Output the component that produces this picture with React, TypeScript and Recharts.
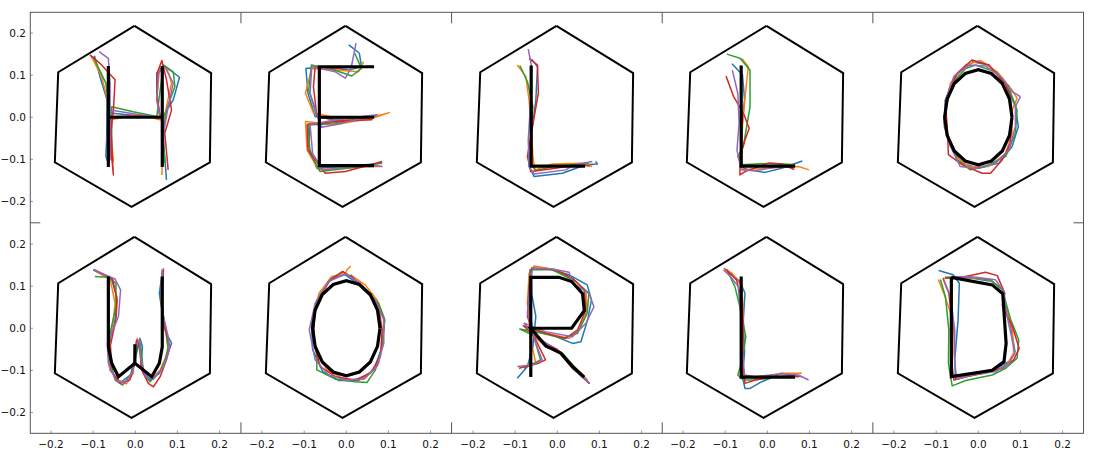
import React from 'react';
import { ScatterChart, Scatter, XAxis, YAxis } from 'recharts';

type Pt = [number, number];

const TICKS = [-0.2, -0.1, 0, 0.1, 0.2];
const DOMAIN: [number, number] = [-0.25, 0.25];
const COLORS = ['#1f77b4', '#ff7f0e', '#2ca02c', '#d62728', '#9467bd'];

// target area drawn around every letter
const HEXAGON: Pt[] = [
  [-0.002, 0.217], [0.18, 0.105], [0.177, -0.107], [-0.009, -0.213],
  [-0.191, -0.107], [-0.183, 0.107], [-0.002, 0.217],
];

// letter templates (black strokes)
const LETTER_H: Pt[][] = [
  [[-0.064, 0.122], [-0.064, -0.118]],
  [[-0.064, 0], [0.064, 0]],
  [[0.064, 0.122], [0.064, -0.118]],
];
const LETTER_E: Pt[][] = [
  [[0.066, 0.12], [-0.064, 0.12], [-0.064, -0.115], [0.066, -0.115]],
  [[-0.064, 0], [0.066, 0]],
];
const LETTER_L: Pt[][] = [
  [[-0.062, 0.123], [-0.062, -0.116], [0.066, -0.116]],
];
const LETTER_O: Pt[][] = [
  [[0.08, 0], [0.074, 0.043], [0.057, 0.08], [0.031, 0.104], [0, 0.113], [-0.031, 0.104],
   [-0.057, 0.08], [-0.074, 0.043], [-0.08, 0], [-0.074, -0.043], [-0.057, -0.08],
   [-0.031, -0.104], [0, -0.113], [0.031, -0.104], [0.057, -0.08], [0.074, -0.043], [0.08, 0]],
];
const LETTER_W: Pt[][] = [
  [[-0.064, 0.123], [-0.064, -0.044], [-0.056, -0.083], [-0.04, -0.115], [-0.001, -0.083],
   [-0.001, -0.038], [-0.001, -0.083], [0.039, -0.115], [0.057, -0.083], [0.064, -0.044], [0.064, 0.123]],
];
const LETTER_R: Pt[][] = [
  [[-0.063, -0.116], [-0.063, 0.121], [0.004, 0.121], [0.034, 0.111], [0.06, 0.082], [0.064, 0.042],
   [0.034, 0], [-0.063, 0], [-0.027, -0.042], [0.008, -0.059], [0.036, -0.091], [0.064, -0.116]],
];
const LETTER_D: Pt[][] = [
  [[-0.064, 0.121], [0.033, 0.103], [0.058, 0.082], [0.066, -0.036], [0.061, -0.079],
   [0.033, -0.1], [-0.064, -0.115], [-0.064, 0.121]],
];

// handwritten traces, order: blue, orange, green, red, purple
const TRACES_H: Pt[][] = [
  [[-0.097, 0.146], [-0.084, 0.097], [-0.067, 0.041], [-0.068, -0.054], [-0.07, -0.093], [-0.064, -0.109],
   [-0.06, 0.01], [0.059, -0.002], [0.051, 0.049], [0.051, 0.105], [0.067, 0.124], [0.105, 0.095],
   [0.09, 0.041], [0.07, 0.01], [0.067, -0.054], [0.074, -0.149]],
  [[-0.105, 0.146], [-0.08, 0.097], [-0.06, 0.017], [-0.064, -0.054], [-0.052, -0.105], [-0.06, -0.006],
   [0.011, 0.006], [0.059, -0.006], [0.051, 0.041], [0.057, 0.112], [0.074, 0.12], [0.086, 0.081],
   [0.074, 0.025], [0.067, -0.022], [0.065, -0.078], [0.063, -0.137]],
  [[-0.1, 0.144], [-0.07, 0.081], [-0.062, 0.017], [-0.06, -0.07], [-0.056, -0.101], [-0.056, 0.025],
   [-0.005, 0.013], [0.051, 0.002], [0.057, 0.049], [0.067, 0.124], [0.09, 0.108], [0.094, 0.073],
   [0.074, 0.017], [0.065, -0.038], [0.07, -0.109]],
  [[-0.108, 0.148], [-0.084, 0.128], [-0.048, 0.089], [-0.052, 0.017], [-0.06, -0.054], [-0.052, -0.137],
   [-0.06, 0.002], [0.011, 0.003], [0.059, 0], [0.051, 0.057], [0.052, 0.105], [0.063, 0.135],
   [0.074, 0.089], [0.086, 0.017], [0.07, -0.038], [0.078, -0.125]],
  [[-0.086, 0.156], [-0.064, 0.14], [-0.06, 0.081], [-0.06, 0.017], [-0.067, -0.054], [-0.06, -0.101],
   [-0.06, 0.017], [0.011, 0.006], [0.059, 0], [0.051, 0.041], [0.055, 0.105], [0.07, 0.12],
   [0.09, 0.081], [0.078, 0.025], [0.067, -0.038], [0.065, -0.117]],
];
const TRACES_E: Pt[][] = [
  [[0.006, 0.172], [0.031, 0.152], [0.036, 0.12], [0.006, 0.112], [-0.058, 0.12], [-0.096, 0.116],
   [-0.091, 0.057], [-0.074, 0.002], [-0.026, -0.006], [0.069, 0.002], [-0.026, -0.016], [-0.086, -0.018],
   [-0.089, -0.07], [-0.07, -0.121], [-0.002, -0.117], [0.085, -0.109]],
  [[0.041, 0.132], [0.029, 0.108], [-0.026, 0.112], [-0.082, 0.116], [-0.097, 0.057], [-0.078, 0.01],
   [-0.002, -0.006], [0.085, 0.006], [0.102, 0.011], [0.069, 0], [-0.026, -0.018], [-0.097, -0.01],
   [-0.093, -0.078], [-0.066, -0.125], [0.053, -0.117], [0.085, -0.117]],
  [[0.02, 0.152], [0.036, 0.116], [0.013, 0.098], [-0.034, 0.114], [-0.083, 0.124], [-0.089, 0.065],
   [-0.07, 0.002], [-0.01, -0.01], [0.069, 0.003], [-0.026, -0.013], [-0.091, -0.016], [-0.086, -0.086],
   [-0.062, -0.129], [0.037, -0.117], [0.085, -0.108]],
  [[0.029, 0.12], [-0.026, 0.116], [-0.074, 0.12], [-0.078, 0.073], [-0.07, 0.002], [-0.002, -0.008],
   [0.061, -0.006], [-0.026, -0.01], [-0.093, -0.018], [-0.091, -0.078], [-0.05, -0.133], [-0.002, -0.129],
   [0.085, -0.105]],
  [[0.023, 0.176], [0.012, 0.12], [-0.002, 0.093], [-0.026, 0.108], [-0.082, 0.12], [-0.086, 0.057],
   [-0.067, -0.002], [-0.058, -0.024], [-0.01, -0.014], [0.073, 0.006], [-0.026, -0.006], [-0.086, -0.018],
   [-0.08, -0.086], [-0.056, -0.125], [0.053, -0.113], [0.086, -0.117]],
];
const TRACES_L1: Pt[][] = [
  [[-0.061, 0.138], [-0.047, 0.12], [-0.051, 0.041], [-0.061, -0.038], [-0.067, -0.117], [-0.055, -0.141],
   [0.012, -0.133], [0.067, -0.113], [0.095, -0.111], [0.091, -0.105]],
  [[-0.095, 0.124], [-0.075, 0.097], [-0.067, 0.041], [-0.061, -0.038], [-0.058, -0.093], [-0.053, -0.125],
   [-0.012, -0.111], [0.06, -0.109], [0.083, -0.117]],
  [[-0.089, 0.123], [-0.071, 0.085], [-0.058, 0.025], [-0.063, -0.054], [-0.065, -0.109], [-0.051, -0.127],
   [-0.012, -0.117], [0.075, -0.109]],
  [[-0.067, 0.14], [-0.047, 0.124], [-0.045, 0.057], [-0.059, -0.022], [-0.071, -0.093], [-0.063, -0.129],
   [-0.004, -0.121], [0.047, -0.113], [0.077, -0.116]],
  [[-0.069, 0.162], [-0.061, 0.12], [-0.063, 0.041], [-0.069, -0.054], [-0.067, -0.117], [-0.055, -0.135],
   [0.02, -0.125], [0.04, -0.113], [0.083, -0.105]],
];
const TRACES_L2: Pt[][] = [
  [[-0.084, 0.127], [-0.059, 0.101], [-0.054, 0.041], [-0.062, -0.038], [-0.064, -0.117], [-0.045, -0.125],
   [-0.005, -0.131], [0.034, -0.121], [0.083, -0.104]],
  [[-0.061, 0.14], [-0.045, 0.12], [-0.052, 0.057], [-0.059, -0.022], [-0.061, -0.093], [-0.059, -0.125],
   [-0.005, -0.121], [0.074, -0.117], [0.099, -0.125]],
  [[-0.096, 0.15], [-0.065, 0.14], [-0.041, 0.112], [-0.041, 0.025], [-0.057, -0.07], [-0.07, -0.093],
   [-0.061, -0.113], [0.011, -0.109], [0.066, -0.113]],
  [[-0.098, 0.098], [-0.08, 0.049], [-0.057, 0.01], [-0.043, -0.026], [-0.053, -0.054], [-0.065, -0.093],
   [-0.065, -0.137], [-0.053, -0.129], [0.003, -0.109], [0.034, -0.111], [0.064, -0.124]],
  [[-0.083, 0.112], [-0.07, 0.057], [-0.067, -0.014], [-0.072, -0.078], [-0.062, -0.125], [-0.029, -0.127],
   [0.019, -0.119], [0.06, -0.117]],
];
const TRACES_O1: Pt[][] = [
  [[-0.015, 0.132], [0.025, 0.124], [0.065, 0.081], [0.088, 0.025], [0.095, -0.022], [0.08, -0.07],
   [0.049, -0.109], [0.001, -0.121], [-0.038, -0.109], [-0.066, -0.07], [-0.081, -0.014], [-0.078, 0.041],
   [-0.054, 0.101], [-0.015, 0.13]],
  [[0.005, 0.135], [0.045, 0.108], [0.08, 0.065], [0.092, 0.045], [0.08, 0.017], [0.08, -0.038],
   [0.065, -0.086], [0.025, -0.117], [-0.022, -0.117], [-0.054, -0.093], [-0.073, -0.038], [-0.079, 0.025],
   [-0.066, 0.081], [-0.03, 0.124], [0.005, 0.135]],
  [[-0.007, 0.124], [0.041, 0.108], [0.073, 0.069], [0.092, 0.017], [0.088, -0.038], [0.065, -0.093],
   [0.017, -0.117], [-0.019, -0.125], [-0.05, -0.101], [-0.074, -0.046], [-0.078, 0.017], [-0.062, 0.081],
   [-0.03, 0.116], [-0.007, 0.124]],
  [[0.074, 0.073], [0.058, 0.085], [0.025, 0.124], [-0.015, 0.136], [-0.05, 0.105], [-0.078, 0.041],
   [-0.073, -0.038], [-0.071, -0.089], [-0.038, -0.113], [0.009, -0.133], [0.029, -0.133], [0.057, -0.101],
   [0.076, -0.062], [0.08, 0.002], [0.076, 0.049], [0.065, 0.077]],
  [[0.1, 0.049], [0.088, 0.025], [0.088, -0.022], [0.073, -0.078], [0.041, -0.109], [-0.007, -0.121],
   [-0.043, -0.117], [-0.062, -0.078], [-0.081, -0.022], [-0.078, 0.041], [-0.058, 0.097], [-0.022, 0.124],
   [0.017, 0.122], [0.057, 0.093], [0.08, 0.061], [0.1, 0.049]],
];
const TRACES_W: Pt[][] = [
  [[-0.1, 0.139], [-0.056, 0.115], [-0.044, 0.075], [-0.048, 0.02], [-0.062, -0.036], [-0.06, -0.099],
   [-0.036, -0.129], [-0.011, -0.111], [0.002, -0.055], [0.011, -0.024], [0.017, -0.044], [0.013, -0.091],
   [0.035, -0.123], [0.057, -0.107], [0.074, -0.067], [0.086, -0.036], [0.07, -0.004], [0.062, 0.051],
   [0.057, 0.083], [0.065, 0.14]],
  [[-0.096, 0.137], [-0.06, 0.117], [-0.048, 0.06], [-0.054, 0.004], [-0.066, -0.051], [-0.062, -0.091],
   [-0.048, -0.119], [-0.021, -0.132], [-0.005, -0.107], [-0.001, -0.044], [0.005, -0.024], [0.011, -0.051],
   [0.019, -0.099], [0.039, -0.119], [0.059, -0.099], [0.078, -0.055], [0.074, -0.02], [0.067, 0.02],
   [0.062, 0.075], [0.067, 0.143]],
  [[-0.096, 0.123], [-0.064, 0.121], [-0.046, 0.107], [-0.046, 0.051], [-0.06, -0.012], [-0.06, -0.075],
   [-0.048, -0.123], [-0.03, -0.135], [-0.009, -0.107], [0.003, -0.059], [0.011, -0.032], [0.015, -0.059],
   [0.019, -0.107], [0.035, -0.127], [0.059, -0.103], [0.071, -0.075], [0.078, -0.044], [0.071, 0.004],
   [0.06, 0.067], [0.064, 0.139]],
  [[-0.097, 0.139], [-0.054, 0.117], [-0.043, 0.067], [-0.046, 0.02], [-0.059, -0.04], [-0.056, -0.103],
   [-0.036, -0.131], [-0.013, -0.123], [-0.001, -0.083], [0.003, -0.028], [0.01, -0.044], [0.015, -0.099],
   [0.031, -0.131], [0.043, -0.139], [0.059, -0.115], [0.074, -0.075], [0.082, -0.044], [0.07, 0.004],
   [0.062, 0.059], [0.067, 0.139]],
  [[-0.1, 0.139], [-0.048, 0.117], [-0.035, 0.091], [-0.04, 0.028], [-0.066, -0.036], [-0.064, -0.083],
   [-0.046, -0.124], [-0.025, -0.131], [-0.006, -0.103], [0.002, -0.04], [0.01, -0.028], [0.013, -0.075],
   [0.025, -0.115], [0.043, -0.121], [0.067, -0.091], [0.081, -0.051], [0.078, -0.02], [0.067, 0.028],
   [0.06, 0.083], [0.065, 0.14]],
];
const TRACES_O2: Pt[][] = [
  [[-0.002, 0.127], [0.037, 0.099], [0.073, 0.059], [0.091, 0.02], [0.085, -0.044], [0.065, -0.099],
   [0.029, -0.124], [-0.018, -0.124], [-0.056, -0.103], [-0.08, -0.051], [-0.083, 0.012], [-0.07, 0.067],
   [-0.038, 0.119], [-0.002, 0.127]],
  [[0.01, 0.148], [0.002, 0.139], [-0.002, 0.131], [-0.034, 0.123], [-0.065, 0.083], [-0.08, 0.02],
   [-0.074, -0.051], [-0.046, -0.099], [-0.002, -0.123], [0.045, -0.119], [0.077, -0.083], [0.087, -0.028],
   [0.089, 0.028], [0.073, 0.067], [0.045, 0.103], [0.01, 0.127]],
  [[-0.006, 0.135], [-0.034, 0.119], [-0.065, 0.075], [-0.082, 0.004], [-0.07, -0.067], [-0.07, -0.099],
   [-0.026, -0.121], [0.021, -0.127], [0.049, -0.129], [0.069, -0.099], [0.085, -0.044], [0.091, 0.02],
   [0.077, 0.059], [0.041, 0.091], [0.01, 0.127]],
  [[-0.009, 0.135], [-0.042, 0.111], [-0.074, 0.051], [-0.078, -0.028], [-0.062, -0.091], [-0.026, -0.115],
   [0.021, -0.123], [0.057, -0.107], [0.081, -0.067], [0.085, -0.004], [0.077, 0.051], [0.045, 0.091],
   [0.017, 0.119], [-0.009, 0.135]],
  [[-0.006, 0.127], [-0.042, 0.111], [-0.074, 0.059], [-0.088, -0.004], [-0.074, -0.075], [-0.042, -0.111],
   [-0.002, -0.123], [0.041, -0.121], [0.073, -0.091], [0.089, -0.036], [0.089, 0.02], [0.069, 0.067],
   [0.033, 0.107], [-0.002, 0.129]],
];
const TRACES_R: Pt[][] = [
  [[-0.095, -0.119], [-0.071, -0.091], [-0.058, -0.044], [-0.051, 0.028], [-0.061, 0.083], [-0.061, 0.139],
   [-0.028, 0.143], [0.028, 0.127], [0.071, 0.103], [0.081, 0.067], [0.072, 0.02], [0.056, -0.032],
   [0.036, -0.036], [-0.012, -0.016], [-0.067, 0], [-0.028, -0.044], [0.008, -0.058], [0.036, -0.095],
   [0.076, -0.131]],
  [[-0.083, -0.091], [-0.051, -0.083], [-0.063, -0.028], [-0.071, 0.059], [-0.067, 0.131], [-0.055, 0.148],
   [-0.004, 0.139], [0.04, 0.115], [0.068, 0.087], [0.071, 0.044], [0.052, -0.004], [0.028, -0.024],
   [-0.028, -0.012], [-0.075, -0.004], [-0.036, -0.036], [0.004, -0.055], [0.044, -0.095], [0.072, -0.123]],
  [[-0.079, -0.095], [-0.04, -0.075], [-0.058, -0.012], [-0.067, 0.059], [-0.065, 0.139], [-0.012, 0.139],
   [0.044, 0.111], [0.075, 0.083], [0.071, 0.036], [0.048, -0.012], [0.012, -0.024], [-0.036, -0.012],
   [-0.089, -0.002], [-0.051, -0.02], [-0.02, -0.044], [0.012, -0.059], [0.04, -0.091], [0.074, -0.129]],
  [[-0.091, -0.095], [-0.044, -0.083], [-0.028, -0.075], [-0.051, -0.028], [-0.071, 0.028], [-0.067, 0.099],
   [-0.061, 0.143], [-0.004, 0.139], [0.036, 0.119], [0.064, 0.091], [0.068, 0.044], [0.048, -0.004],
   [0.02, -0.024], [-0.028, -0.012], [-0.081, 0.006], [-0.04, -0.028], [0.001, -0.051], [0.032, -0.091],
   [0.077, -0.132]],
  [[-0.095, -0.091], [-0.059, -0.087], [-0.036, -0.075], [-0.051, -0.036], [-0.071, 0.036], [-0.063, 0.123],
   [-0.058, 0.143], [-0.012, 0.141], [0.028, 0.133], [0.036, 0.107], [0.075, 0.083], [0.087, 0.051],
   [0.068, 0.012], [0.036, -0.02], [-0.028, -0.008], [-0.079, 0.012], [-0.055, -0.016], [-0.02, -0.04],
   [0.008, -0.059], [0.04, -0.099], [0.077, -0.131]],
];
const TRACES_L3: Pt[][] = [
  [[-0.096, 0.139], [-0.065, 0.111], [-0.053, 0.083], [-0.057, 0.02], [-0.054, -0.059], [-0.059, -0.115],
   [-0.053, -0.143], [-0.041, -0.143], [-0.013, -0.127], [0.034, -0.107], [0.082, -0.115]],
  [[-0.104, 0.143], [-0.084, 0.131], [-0.06, 0.099], [-0.057, 0.02], [-0.059, -0.075], [-0.057, -0.115],
   [-0.029, -0.119], [0.034, -0.107], [0.082, -0.107]],
  [[-0.096, 0.139], [-0.077, 0.099], [-0.065, 0.051], [-0.051, -0.02], [-0.059, -0.075], [-0.07, -0.111],
   [-0.057, -0.123], [-0.029, -0.123], [0.019, -0.115], [0.066, -0.113]],
  [[-0.1, 0.14], [-0.073, 0.115], [-0.059, 0.059], [-0.057, -0.012], [-0.059, -0.075], [-0.053, -0.131],
   [-0.029, -0.123], [0.019, -0.115], [0.058, -0.113], [0.074, -0.116]],
  [[-0.104, 0.139], [-0.088, 0.123], [-0.069, 0.099], [-0.062, 0.02], [-0.059, -0.059], [-0.054, -0.111],
   [-0.029, -0.115], [0.034, -0.108], [0.074, -0.111], [0.098, -0.123]],
];
const TRACES_D: Pt[][] = [
  [[-0.094, 0.137], [-0.06, 0.127], [-0.045, 0.107], [-0.048, 0.02], [-0.056, -0.075], [-0.054, -0.121],
   [-0.014, -0.108], [0.041, -0.097], [0.073, -0.079], [0.087, -0.055], [0.077, 0.004], [0.065, 0.059],
   [0.058, 0.091], [0.033, 0.111], [-0.014, 0.119], [-0.064, 0.121]],
  [[-0.095, 0.116], [-0.082, 0.083], [-0.06, 0.02], [-0.06, -0.059], [-0.065, -0.115], [-0.038, -0.116],
   [0.017, -0.107], [0.065, -0.091], [0.084, -0.059], [0.081, -0.004], [0.069, 0.036], [0.058, 0.075],
   [0.057, 0.095], [0.025, 0.115], [-0.03, 0.121], [-0.084, 0.119]],
  [[-0.09, 0.116], [-0.078, 0.075], [-0.07, -0.004], [-0.071, -0.083], [-0.062, -0.137], [-0.03, -0.124],
   [0.033, -0.111], [0.065, -0.095], [0.092, -0.071], [0.096, -0.028], [0.077, 0.02], [0.065, 0.063],
   [0.057, 0.091], [0.029, 0.115], [-0.03, 0.123], [-0.079, 0.121]],
  [[-0.084, 0.119], [-0.07, 0.083], [-0.06, 0.004], [-0.064, -0.075], [-0.058, -0.123], [-0.03, -0.116],
   [0.017, -0.105], [0.057, -0.095], [0.084, -0.075], [0.097, -0.048], [0.081, 0.004], [0.065, 0.036],
   [0.057, 0.055], [0.063, 0.083], [0.045, 0.125], [0.017, 0.133], [-0.03, 0.123], [-0.078, 0.119]],
  [[-0.082, 0.116], [-0.066, 0.075], [-0.056, -0.004], [-0.056, -0.083], [-0.051, -0.121], [-0.014, -0.111],
   [0.041, -0.103], [0.073, -0.083], [0.087, -0.059], [0.077, -0.012], [0.065, 0.044], [0.061, 0.087],
   [0.041, 0.115], [-0.006, 0.121], [-0.06, 0.123]],
];

const PANELS = [
  { letter: LETTER_H, traces: TRACES_H },
  { letter: LETTER_E, traces: TRACES_E },
  { letter: LETTER_L, traces: TRACES_L1 },
  { letter: LETTER_L, traces: TRACES_L2 },
  { letter: LETTER_O, traces: TRACES_O1 },
  { letter: LETTER_W, traces: TRACES_W },
  { letter: LETTER_O, traces: TRACES_O2 },
  { letter: LETTER_R, traces: TRACES_R },
  { letter: LETTER_L, traces: TRACES_L3 },
  { letter: LETTER_D, traces: TRACES_D },
];

const FRAME_X = 30.3;
const FRAME_Y = 12.3;
const PANEL_W = 210.64;
const PANEL_H = 210.5;
const COLS = 5;
const GUTTER = 30;

const tickStyle = { fontSize: 10.5, fill: '#111', fontFamily: 'DejaVu Sans' };
// matplotlib style labels with a real minus sign
const fmt = (v: number) => (v < 0 ? '\u2212' + Math.abs(v).toFixed(1) : v.toFixed(1));
const toXY = (pts: Pt[]) => pts.map(([x, y]) => ({ x, y }));
const noDot = () => <g />;

const Panel = ({ letter, traces, row, col }: { letter: Pt[][]; traces: Pt[][]; row: number; col: number }) => {
  const showY = col === 0;
  const showX = row === 1;
  const width = PANEL_W + (showY ? GUTTER : 0);
  const height = PANEL_H + (showX ? GUTTER : 0);
  const left = FRAME_X + col * PANEL_W - (showY ? GUTTER : 0);
  const top = FRAME_Y + row * PANEL_H;
  return (
    <div style={{ position: 'absolute', left, top }}>
      <ScatterChart width={width} height={height} margin={{ top: 0, right: 0, bottom: 0, left: 0 }}>
        <XAxis
          type="number"
          dataKey="x"
          domain={DOMAIN}
          ticks={TICKS}
          interval={0}
          allowDataOverflow
          hide={!showX}
          height={GUTTER}
          axisLine={false}
          tickLine={{ stroke: '#999' }}
          tickSize={-3}
          tickMargin={10}
          tick={tickStyle}
          tickFormatter={fmt}
        />
        <YAxis
          type="number"
          dataKey="y"
          domain={DOMAIN}
          ticks={TICKS}
          interval={0}
          allowDataOverflow
          hide={!showY}
          width={GUTTER}
          axisLine={false}
          tickLine={{ stroke: '#999' }}
          tickSize={-3}
          tickMargin={7}
          tick={tickStyle}
          tickFormatter={fmt}
        />
        <Scatter data={toXY(HEXAGON)} line={{ stroke: '#000', strokeWidth: 2 }} shape={noDot} isAnimationActive={false} />
        {traces.map((t, i) => (
          <Scatter
            key={`t${i}`}
            data={toXY(t)}
            line={{ stroke: COLORS[i], strokeWidth: 1.5, strokeLinejoin: 'round' }}
            shape={noDot}
            isAnimationActive={false}
          />
        ))}
        {letter.map((s, i) => (
          <Scatter
            key={`l${i}`}
            data={toXY(s)}
            line={{ stroke: '#000', strokeWidth: 3.2 }}
            shape={noDot}
            isAnimationActive={false}
          />
        ))}
      </ScatterChart>
    </div>
  );
};

export default function App() {
  const right = FRAME_X + COLS * PANEL_W;
  const bottom = FRAME_Y + 2 * PANEL_H;
  const midY = FRAME_Y + PANEL_H;
  return (
    <div style={{ position: 'absolute', left: 0, top: 0, width: 1094, height: 463, background: '#fff' }}>
      {PANELS.map((p, i) => (
        <Panel key={i} letter={p.letter} traces={p.traces} row={Math.floor(i / COLS)} col={i % COLS} />
      ))}
      <svg width={1094} height={463} style={{ position: 'absolute', left: 0, top: 0, pointerEvents: 'none' }}>
        <rect x={FRAME_X} y={FRAME_Y} width={right - FRAME_X} height={bottom - FRAME_Y} fill="none" stroke="#555" strokeWidth={1} />
        {[1, 2, 3, 4].map((k) => (
          <g key={k} stroke="#555" strokeWidth={1}>
            <line x1={FRAME_X + k * PANEL_W} x2={FRAME_X + k * PANEL_W} y1={FRAME_Y} y2={FRAME_Y + 11} />
            <line x1={FRAME_X + k * PANEL_W} x2={FRAME_X + k * PANEL_W} y1={bottom - 11} y2={bottom} />
          </g>
        ))}
        <line x1={FRAME_X} x2={FRAME_X + 10} y1={midY} y2={midY} stroke="#555" />
        <line x1={right - 10} x2={right} y1={midY} y2={midY} stroke="#555" />
      </svg>
    </div>
  );
}
